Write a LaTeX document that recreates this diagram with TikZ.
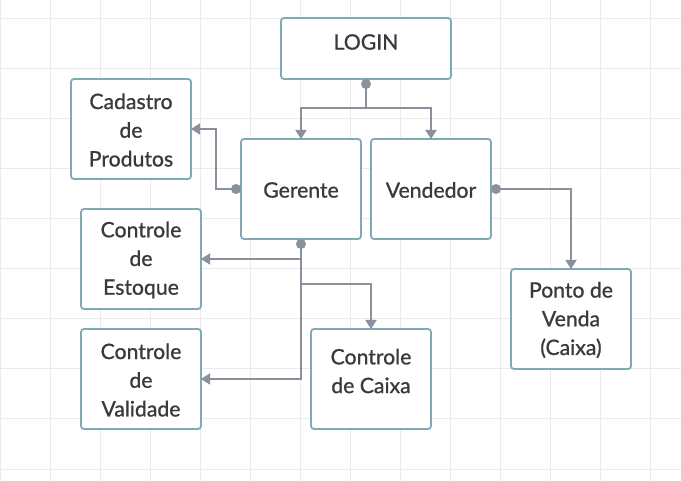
\documentclass[tikz,border=0pt]{standalone}
\usepackage{fontspec}
\setmainfont{Lato}
\newfontface\lblfont{Lato}[FakeBold=0.9]
\usetikzlibrary{arrows.meta}
\definecolor{gridc}{HTML}{EBEBEB}
\definecolor{boxc}{HTML}{7FAAB3}
\definecolor{linec}{HTML}{8A909C}
\definecolor{txtc}{HTML}{3A3A3A}
\tikzset{
  box/.style={draw=boxc, line width=1.8pt, rounded corners=3pt, fill=white, inner sep=0pt},
  lbl/.style={text=txtc, font=\lblfont\fontsize{21.2}{28.7}\selectfont, align=center, inner sep=0pt},
  conn/.style={draw=linec, line width=1.8pt, -{Triangle[width=11pt,length=9pt]}},
  plain/.style={draw=linec, line width=1.8pt},
  dot/.style={circle, fill=linec, minimum size=10pt, inner sep=0pt}
}
\begin{document}
\begin{tikzpicture}[x=1pt,y=-1pt]
\useasboundingbox (0,0) rectangle (681,481);
\fill[white] (0,0) rectangle (681,481);
% grid
\foreach \gx in {0.7,50.7,...,680} \draw[gridc, line width=1pt] (\gx,0) -- (\gx,481);
\foreach \gy in {19,69,...,480} \draw[gridc, line width=1pt] (0,\gy) -- (681,\gy);
% boxes
\path[box] (281,18) rectangle (451,79); \node[lbl] (login) at (366,42) {LOGIN};
\path[box] (71,79) rectangle (191,179); \node[lbl] (cad) at (131,130) {Cadastro\\de\\Produtos};
\path[box] (241,139) rectangle (361,239); \node[lbl] (ger) at (301,190) {Gerente};
\path[box] (371,139) rectangle (491,239); \node[lbl] (ven) at (431,190) {Vendedor};
\path[box] (81,209) rectangle (201,309); \node[lbl] (est) at (141,260) {Controle\\de\\Estoque};
\path[box] (81,329) rectangle (201,429); \node[lbl] (val) at (141,380) {Controle\\de\\Validade};
\path[box] (311,329) rectangle (431,429); \node[lbl] (cai) at (371,371) {Controle\\de Caixa};
\path[box] (511,269) rectangle (631,369); \node[lbl] (pdv) at (571,320) {Ponto de\\Venda\\(Caixa)};
% anchor coordinates on box edges
\coordinate (cadR) at (191,129);
\coordinate (gerT) at (301,139);
\coordinate (venT) at (431,139);
\coordinate (gerL) at (236,189);
\coordinate (gerB) at (301,244);
\coordinate (venR) at (496,189);
\coordinate (estR) at (201,259);
\coordinate (valR) at (201,379);
\coordinate (caiT) at (371,329);
\coordinate (pdvT) at (571,269);
\coordinate (loginB) at (366,84);
% connectors
\coordinate (lj) at (366,108);
\coordinate (gj) at (301,284);
\draw[plain] (loginB) -- (lj);
\draw[conn] (lj) -| (gerT);
\draw[conn] (lj) -| (venT);
\draw[conn] (gerL) -- (216,189) |- (cadR);
\draw[conn] (gerB) |- (estR);
\draw[conn] (gerB) |- (valR);
\draw[conn] (gj) -| (caiT);
\draw[conn] (venR) -| (pdvT);
% dots
\node[dot] (d1) at (loginB) {};
\node[dot] (d2) at (gerL) {};
\node[dot] (d3) at (gerB) {};
\node[dot] (d4) at (venR) {};
\end{tikzpicture}
\end{document}
